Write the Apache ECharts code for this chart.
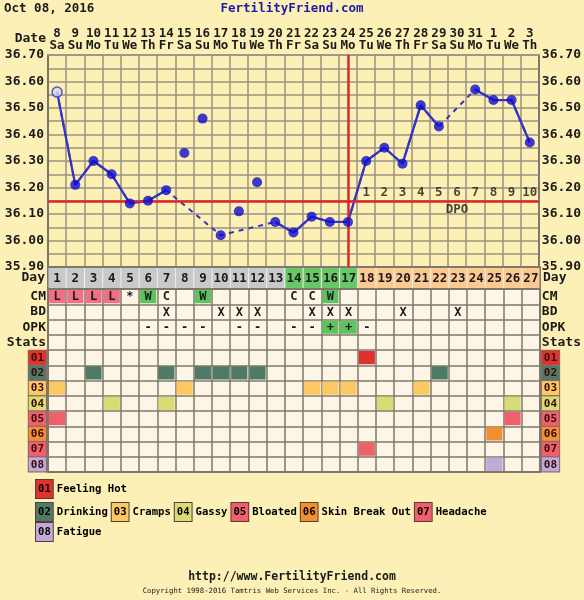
<!DOCTYPE html>
<html><head><meta charset="utf-8">
<script src="https://cdn.jsdelivr.net/npm/echarts@6/dist/echarts.min.js"></script>
<style>html,body{margin:0;padding:0;background:#fcf0b6;}#c{width:584px;height:600px;}</style>
</head><body><div id="c"></div>
<script>
// ---------- DATA ----------
const chartDate = 'Oct 08, 2016';
const siteName = 'FertilityFriend.com';
const dates = [8,9,10,11,12,13,14,15,16,17,18,19,20,21,22,23,24,25,26,27,28,29,30,31,1,2,3];
const weekdays = ['Sa','Su','Mo','Tu','We','Th','Fr','Sa','Su','Mo','Tu','We','Th','Fr','Sa','Su','Mo','Tu','We','Th','Fr','Sa','Su','Mo','Tu','We','Th'];
const cycleDays = [1,2,3,4,5,6,7,8,9,10,11,12,13,14,15,16,17,18,19,20,21,22,23,24,25,26,27];
const temps = [36.56,36.21,36.30,36.25,36.14,36.15,36.19,36.33,36.46,36.02,36.11,36.22,36.07,36.03,36.09,36.07,36.07,36.30,36.35,36.29,36.51,36.43,null,36.57,36.53,36.53,36.37];
const discardedDays = [8,9,11,12];
const openDays = [1];
const coverLine = 36.15;
const ovulationDay = 17;
const dpoLabels = [1,2,3,4,5,6,7,8,9,10];
const tempTicks = ['35.90','36.00','36.10','36.20','36.30','36.40','36.50','36.60','36.70'];
const phases = ['pre','pre','pre','pre','pre','pre','pre','pre','pre','pre','pre','pre','pre','fer','fer','fer','fer','post','post','post','post','post','post','post','post','post','post'];
const cm = ['L','L','L','L','*','W','C','','W','','','','','C','C','W','','','','','','','','','','',''];
const bdDays = [7,10,11,12,15,16,17,20,23];
const opk = ['','','','','','-','-','-','-','','-','-','','-','-','+','+','-','','','','','','','','',''];
const rowNames = ['CM','BD','OPK','Stats','01','02','03','04','05','06','07','08'];
const statCodes = ['01','02','03','04','05','06','07','08'];
const statNames = ['Feeling Hot','Drinking','Cramps','Gassy','Bloated','Skin Break Out','Headache','Fatigue'];
const feelingHot = [18];
const drinking = [3,7,9,10,11,12,22];
const cramps = [1,8,15,16,17,21];
const gassy = [4,7,19,26];
const bloated = [1,26];
const skinBreakOut = [25];
const headache = [18];
const fatigue = [25];
const statDays = [feelingHot, drinking, cramps, gassy, bloated, skinBreakOut, headache, fatigue];

// ---------- STYLE ----------
const FONT = 'DejaVu Sans Mono';
const statColors = ['#e0322c','#4f7b66','#fcc862','#d8dc72','#f0606c','#f09030','#f0606c','#c2aad8'];
const phaseColors = {pre:'#c9c9c9', fer:'#68c868', post:'#fcc992'};
const cmColors = {L:'#f0708a', W:'#5ec25e'};
const plusColor = '#5ec25e';
const lineColor = '#3434c4';
const gridCol = '#9a9282';
const tableLine = '#7e786c';
const red = '#e0262a';
const TXT = '#1a1a1a';
function fs(size, weight){ return {fontFamily:FONT, fontSize:size, fontWeight:weight||'bold', color:TXT}; }

// ---------- build cells ----------
const cells = [];
cm.forEach((t,i)=>{ if(t) cells.push({x:i,y:0,text:t,fill:cmColors[t]||null}); });
bdDays.forEach(d=>cells.push({x:d-1,y:1,text:'X',fill:null}));
opk.forEach((t,i)=>{ if(t) cells.push({x:i,y:2,text:t,fill:t==='+'?plusColor:null}); });
statDays.forEach((arr,k)=>arr.forEach(d=>cells.push({x:d-1,y:4+k,text:'',fill:statColors[k]})));

const lineTemps = temps.map((v,i)=> discardedDays.indexOf(i+1)>=0 ? null : v);
const pts = [];
temps.forEach((v,i)=>{ if(v==null) return;
  const open = openDays.indexOf(i+1)>=0;
  pts.push({value:[i,v], itemStyle: open?{color:'#d6d4f4',borderColor:lineColor,borderWidth:1.5}:{color:'#0c0cd0'}});
});
const ovIdx = ovulationDay-1;
const dpoData = dpoLabels.map((n,k)=>({value:[ovIdx+1+k, coverLine+0.03], label:{formatter:String(n)}}));
const dpoTitle = [{value:[ovIdx+1+Math.floor(dpoLabels.length/2), coverLine-0.035], label:{formatter:'DPO'}}];

const rich = {t:fs(13)};
statCodes.forEach((c,k)=>{ rich['s'+c] = Object.assign(fs(11),{color:'#3a0a0a',backgroundColor:statColors[k],borderColor:'#8a6a6a',borderWidth:1,padding:[2,2,1,2]}); });
function rowLabel(v){ return statCodes.indexOf(v)>=0 ? '{s'+v+'|'+v+'}' : '{t|'+v+'}'; }

function cellRender(list){
  return function(params, api){
    const c = list[params.dataIndex];
    const p = api.coord([api.value(0), api.value(1)]);
    const s = api.size([1,1]);
    const ch = [];
    if(c.fill) ch.push({type:'rect',shape:{x:p[0]-s[0]/2+1,y:p[1]-s[1]/2+1,width:s[0]-2,height:s[1]-2},style:{fill:c.fill}});
    if(c.text) ch.push({type:'text',style:{text:c.text,x:p[0],y:p[1]+0.5,align:'center',verticalAlign:'middle',font:'bold 12px '+FONT,fill:TXT}});
    return {type:'group',children:ch};
  };
}
const dayCells = cycleDays.map((d,i)=>({x:i,y:0,text:String(d),fill:phaseColors[phases[i]]}));
function dayRender(params, api){
  const c = dayCells[params.dataIndex];
  const p = api.coord([api.value(0), api.value(1)]);
  const s = api.size([1,1]);
  return {type:'group',children:[
    {type:'rect',shape:{x:p[0]-s[0]/2+0.5,y:p[1]-s[1]/2+1,width:s[0]-1,height:s[1]-2},style:{fill:c.fill}},
    {type:'text',style:{text:c.text,x:p[0],y:p[1]+1,align:'center',verticalAlign:'middle',font:'bold 12.5px '+FONT,fill:TXT}}
  ]};
}

// legend rich text
const legRich = {n:Object.assign(fs(10.6),{padding:[0,4,0,4]})};
statCodes.forEach((c,k)=>{ legRich['b'+c] = Object.assign(fs(10.6),{color:'#3a0a0a',backgroundColor:statColors[k],borderColor:'#5a3a3a',borderWidth:1,padding:[4,2,3,2]}); });
function legText(ks){ return ks.map(k=>'{b'+statCodes[k]+'|'+statCodes[k]+'}{n|'+statNames[k]+'}').join(''); }

const L=48, R=44;
const tempLabel = {margin:4, fontFamily:FONT, fontSize:13, fontWeight:'bold', color:TXT,
  formatter:v=>{const s=v.toFixed(2);return tempTicks.indexOf(s)>=0?s:'';}};
const chart = echarts.init(document.getElementById('c'));
chart.setOption({
  backgroundColor:'#fcf0b6',
  animation:false,
  grid:[
    {left:L,right:R,top:55,height:212,show:true,backgroundColor:'#fcf0b4',borderWidth:0},
    {left:L,right:R,top:267,height:22,show:true,backgroundColor:'#f4f0e6',borderWidth:0},
    {left:L,right:R,top:289,height:183,show:true,backgroundColor:'#fdf6e6',borderWidth:0}
  ],
  xAxis:[
    {gridIndex:0,type:'category',data:cycleDays.map(String),boundaryGap:true,axisTick:{show:false},axisLabel:{show:false},
     axisLine:{show:true,lineStyle:{color:tableLine,width:2}},splitLine:{show:true,interval:0,lineStyle:{color:gridCol,width:1.5}}},
    {gridIndex:0,type:'category',position:'top',data:cycleDays.map(String),boundaryGap:true,axisTick:{show:false},
     axisLine:{show:true,lineStyle:{color:gridCol,width:1.5}},splitLine:{show:false},
     axisLabel:{interval:0,margin:3,formatter:(v,i)=>'{d|'+dates[i]+'}\n{w|'+weekdays[i]+'}',
       rich:{d:Object.assign(fs(12.5),{lineHeight:12,align:'center'}),w:Object.assign(fs(12.5),{lineHeight:12,align:'center'})}}},
    {gridIndex:1,type:'category',data:cycleDays.map(String),boundaryGap:true,axisTick:{show:false},axisLabel:{show:false},
     axisLine:{show:true,lineStyle:{color:tableLine,width:2}},splitLine:{show:false}},
    {gridIndex:2,type:'category',data:cycleDays.map(String),boundaryGap:true,axisTick:{show:false},axisLabel:{show:false},
     axisLine:{show:true,lineStyle:{color:tableLine,width:2}},splitLine:{show:true,interval:0,lineStyle:{color:tableLine,width:1.5}}}
  ],
  yAxis:[
    {gridIndex:0,type:'value',min:35.9,max:36.7,interval:0.05,position:'left',
     axisLine:{show:true,lineStyle:{color:tableLine,width:2}},axisTick:{show:false},
     splitLine:{show:true,lineStyle:{color:gridCol,width:1.5}},axisLabel:tempLabel},
    {gridIndex:0,type:'value',min:35.9,max:36.7,interval:0.05,position:'right',
     axisLine:{show:true,lineStyle:{color:tableLine,width:2}},axisTick:{show:false},splitLine:{show:false},
     axisLabel:Object.assign({},tempLabel,{margin:3})},
    {gridIndex:1,type:'category',data:['Day'],position:'left',axisTick:{show:false},axisLine:{show:true,lineStyle:{color:tableLine,width:2}},
     axisLabel:{margin:3,formatter:rowLabel,rich:rich},splitLine:{show:false}},
    {gridIndex:1,type:'category',data:['Day'],position:'right',axisTick:{show:false},axisLine:{show:true,lineStyle:{color:tableLine,width:2}},
     axisLabel:{margin:3,formatter:rowLabel,rich:rich},splitLine:{show:false}},
    {gridIndex:2,type:'category',data:rowNames,inverse:true,position:'left',axisTick:{show:false},axisLine:{show:true,lineStyle:{color:tableLine,width:2}},
     axisLabel:{interval:0,margin:2,formatter:rowLabel,rich:rich},splitLine:{show:true,interval:0,lineStyle:{color:tableLine,width:1.5}}},
    {gridIndex:2,type:'category',data:rowNames,inverse:true,position:'right',axisTick:{show:false},axisLine:{show:true,lineStyle:{color:tableLine,width:2}},
     axisLabel:{interval:0,margin:2,formatter:rowLabel,rich:rich},splitLine:{show:false}}
  ],
  series:[
    {type:'line',xAxisIndex:0,yAxisIndex:0,data:lineTemps,connectNulls:true,showSymbol:false,symbol:'none',
     lineStyle:{color:lineColor,width:2,type:[5,5]},z:3},
    {type:'line',xAxisIndex:0,yAxisIndex:0,data:lineTemps,connectNulls:false,showSymbol:false,symbol:'none',
     lineStyle:{color:lineColor,width:2.3},z:4,
     markLine:{silent:true,symbol:'none',label:{show:false},lineStyle:{color:red,width:2.5,type:'solid'},
       data:[{yAxis:coverLine},{xAxis:String(ovulationDay)}]}},
    {type:'scatter',xAxisIndex:0,yAxisIndex:0,data:pts,symbolSize:10,z:5},
    {type:'scatter',xAxisIndex:0,yAxisIndex:0,data:dpoData.concat(dpoTitle),symbolSize:0,z:6,
     label:Object.assign({show:true,position:'inside'},fs(12.5))},
    {type:'custom',xAxisIndex:2,yAxisIndex:2,data:dayCells.map(c=>[c.x,c.y]),renderItem:dayRender,z:5},
    {type:'custom',xAxisIndex:3,yAxisIndex:4,data:cells.map(c=>[c.x,c.y]),renderItem:cellRender(cells),z:5}
  ],
  graphic:[
    {type:'text',left:4,top:2,style:{text:chartDate,font:'bold 12.5px '+FONT,fill:TXT}},
    {type:'text',left:'center',top:2,style:{text:siteName,font:'bold 12.5px '+FONT,fill:'#1c1ca8'}},
    {type:'text',right:584-46,top:32,style:{text:'Date',font:'bold 13px '+FONT,fill:TXT}},
    {type:'text',left:35,top:479,style:{text:legText([0]),rich:legRich}},
    {type:'text',left:35,top:502,style:{text:legText([1,2,3,4,5,6]),rich:legRich}},
    {type:'text',left:35,top:522,style:{text:legText([7]),rich:legRich}},
    {type:'text',left:'center',top:571,style:{text:'http://www.FertilityFriend.com',font:'bold 11.5px '+FONT,fill:TXT}},
    {type:'text',left:'center',top:588,style:{text:'Copyright 1998-2016 Tamtris Web Services Inc. - All Rights Reserved.',font:'7.3px '+FONT,fill:TXT}}
  ]
});
</script></body></html>
